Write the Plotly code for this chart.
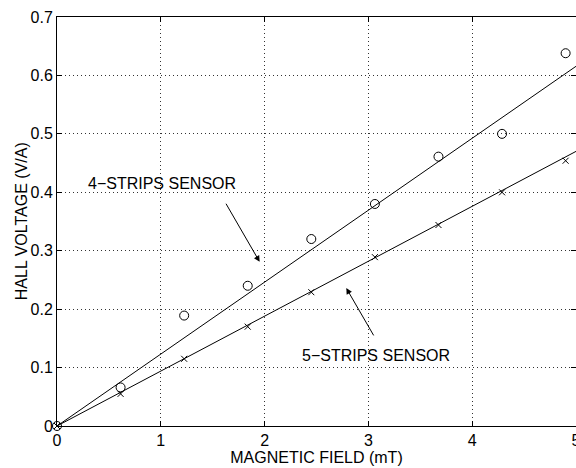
import plotly.graph_objects as go

# Data
field_mt = [0, 0.6125, 1.225, 1.8375, 2.45, 3.0625, 3.675, 4.2875, 4.9]
v_4strips = [0, 0.066, 0.189, 0.240, 0.320, 0.380, 0.461, 0.500, 0.638]
v_5strips = [0, 0.055, 0.115, 0.170, 0.229, 0.289, 0.344, 0.400, 0.454]
fit_x = [0, 5]
fit_4strips = [0, 0.6156]
fit_5strips = [0, 0.470]
x_ticks = [0, 1, 2, 3, 4, 5]
y_ticks = [0, 0.1, 0.2, 0.3, 0.4, 0.5, 0.6, 0.7]

FONT = "Liberation Sans, Arial, Helvetica, sans-serif"

fig = go.Figure()
fig.add_trace(go.Scatter(x=fit_x, y=fit_4strips, mode="lines",
                         line=dict(color="black", width=1), showlegend=False, hoverinfo="skip"))
fig.add_trace(go.Scatter(x=fit_x, y=fit_5strips, mode="lines",
                         line=dict(color="black", width=1), showlegend=False, hoverinfo="skip"))
fig.add_trace(go.Scatter(x=field_mt, y=v_4strips, mode="markers",
                         marker=dict(symbol="circle-open", size=9, color="black", line=dict(width=1)),
                         showlegend=False, cliponaxis=False))
fig.add_trace(go.Scatter(x=field_mt, y=v_5strips, mode="markers",
                         marker=dict(symbol="x-thin-open", size=6, color="black", line=dict(width=1)),
                         showlegend=False, cliponaxis=False))
# invisible trace to carry the right-hand tick axis
fig.add_trace(go.Scatter(x=[None], y=[None], yaxis="y2", showlegend=False, hoverinfo="skip"))

fig.add_annotation(x=1.952, y=0.281, ax=1.62, ay=0.383, axref="x", ayref="y",
                   showarrow=True, arrowhead=2, arrowsize=1.2, arrowwidth=1, arrowcolor="black", text="")
fig.add_annotation(x=2.787, y=0.236, ax=3.059, ay=0.1525, axref="x", ayref="y",
                   showarrow=True, arrowhead=2, arrowsize=1.2, arrowwidth=1, arrowcolor="black", text="")
fig.add_annotation(x=1.014, y=0.415, text="4\u2212STRIPS SENSOR", showarrow=False,
                   font=dict(family=FONT, size=16, color="black"))
fig.add_annotation(x=3.075, y=0.121, text="5\u2212STRIPS SENSOR", showarrow=False,
                   font=dict(family=FONT, size=16, color="black"))
# y-axis title placed as an annotation for exact position
fig.add_annotation(xref="paper", yref="paper", x=-(57 - 21.7) / 519, y=0.5, textangle=-90,
                   text="HALL VOLTAGE (V/A)", showarrow=False, xanchor="center", yanchor="middle",
                   font=dict(family=FONT, size=16, color="black"))

axis_common = dict(showline=True, linecolor="black", linewidth=1, ticks="inside", ticklen=5,
                   tickcolor="black", showgrid=True, gridcolor="#333", griddash="1px,3px", gridwidth=1,
                   zeroline=False, automargin=False, tickfont=dict(family=FONT, size=16, color="black"))

fig.update_layout(
    width=576, height=468,
    margin=dict(l=57, r=0, t=17, b=42),
    paper_bgcolor="white", plot_bgcolor="white",
    font=dict(family=FONT, size=16, color="black"),
    xaxis=dict(range=[0, 5], tickvals=x_ticks, mirror="ticks", ticklabeloverflow="allow",
               title=dict(text="MAGNETIC FIELD (mT)", standoff=0, font=dict(family=FONT, size=16)),
               **axis_common),
    yaxis=dict(range=[0, 0.7], tickvals=y_ticks, mirror=False, ticklabeloverflow="allow",
               **axis_common),
    yaxis2=dict(overlaying="y", side="right", range=[0, 0.7], tickvals=y_ticks, showline=False,
                ticks="inside", ticklen=5, tickcolor="black", showticklabels=False,
                showgrid=False, zeroline=False, automargin=False),
)

fig.write_html("out.html", config={"displayModeBar": False},
               post_script="document.body.style.margin='0';document.body.style.overflow='hidden';")
